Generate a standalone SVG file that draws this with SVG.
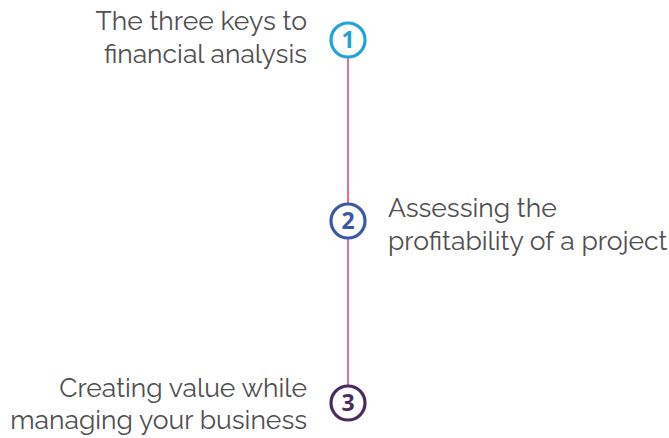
<svg xmlns="http://www.w3.org/2000/svg" width="669" height="438" viewBox="0 0 669 438">
  <style>
    .label { font-family: Raleway, Lato, "Open Sans", "Liberation Sans", sans-serif; font-size: 26.5px; font-weight: 400; fill: #4f4f4f; }
    .right { text-anchor: end; }
    .ring { fill: #ffffff; stroke-width: 3.2; }
    .num { font-family: "Open Sans", "Liberation Sans", sans-serif; font-size: 23px; font-weight: 700; text-anchor: middle; }
    .link { stroke: #e24a76; stroke-width: 1.6; fill: none; }
  </style>
  <rect width="669" height="438" fill="#ffffff"/>
  <g id="connectors">
    <line class="link" x1="348" y1="57" x2="348" y2="204"/>
    <line class="link" x1="348" y1="239" x2="348" y2="386"/>
  </g>
  <g id="step1">
    <circle class="ring" cx="348" cy="40" r="17" stroke="#1fa3d9"/>
    <text class="num" x="348" y="48" fill="#1fa3d9">1</text>
    <text class="label right" x="307" y="30">The three keys to</text>
    <text class="label right" x="307" y="63">financial analysis</text>
  </g>
  <g id="step2">
    <circle class="ring" cx="348" cy="221" r="17" stroke="#3b57a6"/>
    <text class="num" x="348" y="229" fill="#3b57a6">2</text>
    <text class="label" x="388" y="217">Assessing the</text>
    <text class="label" x="388" y="250">profitability of a project</text>
  </g>
  <g id="step3">
    <circle class="ring" cx="348" cy="403" r="17" stroke="#4b2b5d"/>
    <text class="num" x="348" y="411" fill="#4b2b5d">3</text>
    <text class="label right" x="307" y="397">Creating value while</text>
    <text class="label right" x="307" y="429">managing your business</text>
  </g>
</svg>
